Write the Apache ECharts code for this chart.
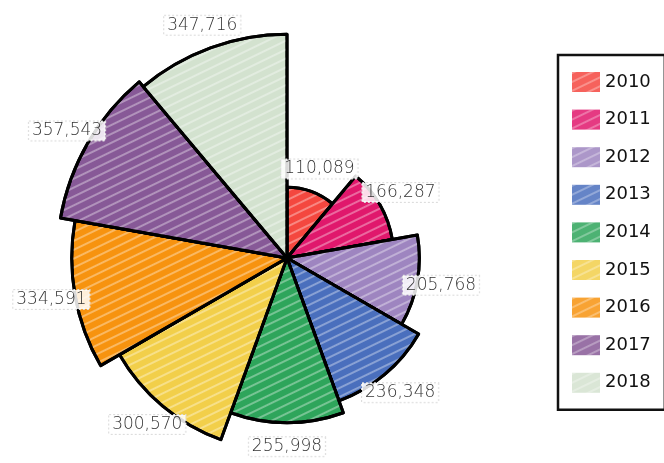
<!DOCTYPE html>
<html>
<head>
<meta charset="utf-8">
<script src="https://cdn.jsdelivr.net/npm/echarts@6/dist/echarts.min.js"></script>
<style>html,body{margin:0;padding:0;background:#fff}#main{width:664px;height:463px}</style>
</head>
<body>
<div id="main"></div>
<script>
var categories = ['2010','2011','2012','2013','2014','2015','2016','2017','2018'];
var values = [110089,166287,205768,236348,255998,300570,334591,357543,347716];
var colors = ['#f4473f','#e0186c','#9e85c0','#4a6fbd','#2ea55b','#f2cf4a','#f7930f','#875997','#d3e2cf'];

var chart = echarts.init(document.getElementById('main'), null, {renderer: 'canvas'});
var data = categories.map(function (c, i) {
  return { name: c, value: values[i], itemStyle: { color: colors[i] } };
});
function fmt(v) { return v.toString().replace(/\B(?=(\d{3})+(?!\d))/g, ','); }
var CX = 287, CY = 258, R = 230, LABEL_OFF = 24;
var maxV = Math.max.apply(null, values);
chart.setOption({
  animation: false,
  backgroundColor: '#fff',
  legend: {
    orient: 'vertical',
    left: 558, top: 55,
    padding: [17, 14],
    itemWidth: 28, itemHeight: 20, itemGap: 17.6,
    itemTextGap: 8,
    borderColor: '#111', borderWidth: 2.5,
    icon: 'rect',
    itemStyle: { borderWidth: 0, opacity: 0.85 },
    textStyle: { fontSize: 18, color: '#111', fontFamily: 'DejaVu Sans' },
    data: categories
  },
  series: [{
    type: 'pie',
    roseType: 'area',
    center: [CX, CY],
    radius: [0, R],
    startAngle: 90,
    clockwise: true,
    avoidLabelOverlap: false,
    itemStyle: {
      borderColor: '#000', borderWidth: 3,
      decal: { symbol: 'rect', dashArrayX: [1, 0], dashArrayY: [2, 6], rotation: -0.45, color: 'rgba(255,255,255,0.35)' }
    },
    label: {
      show: true, position: 'outside',
      formatter: function (p) { return fmt(p.value); },
      fontSize: 17, color: '#333', fontFamily: 'DejaVu Sans', fontWeight: 300,
      backgroundColor: 'rgba(255,255,255,0.85)',
      borderColor: '#ddd', borderWidth: 1, borderType: 'dotted',
      padding: [1, 3]
    },
    labelLine: { show: false },
    labelLayout: function (p) {
      var i = p.dataIndex;
      var step = 360 / values.length;
      var ang = (step / 2 + step * i) * Math.PI / 180;
      var r = values[i] / maxV * R + LABEL_OFF;
      return { x: CX + r * Math.sin(ang), y: CY - r * Math.cos(ang), align: 'center', verticalAlign: 'middle' };
    },
    data: data
  }]
});
</script>
</body>
</html>
